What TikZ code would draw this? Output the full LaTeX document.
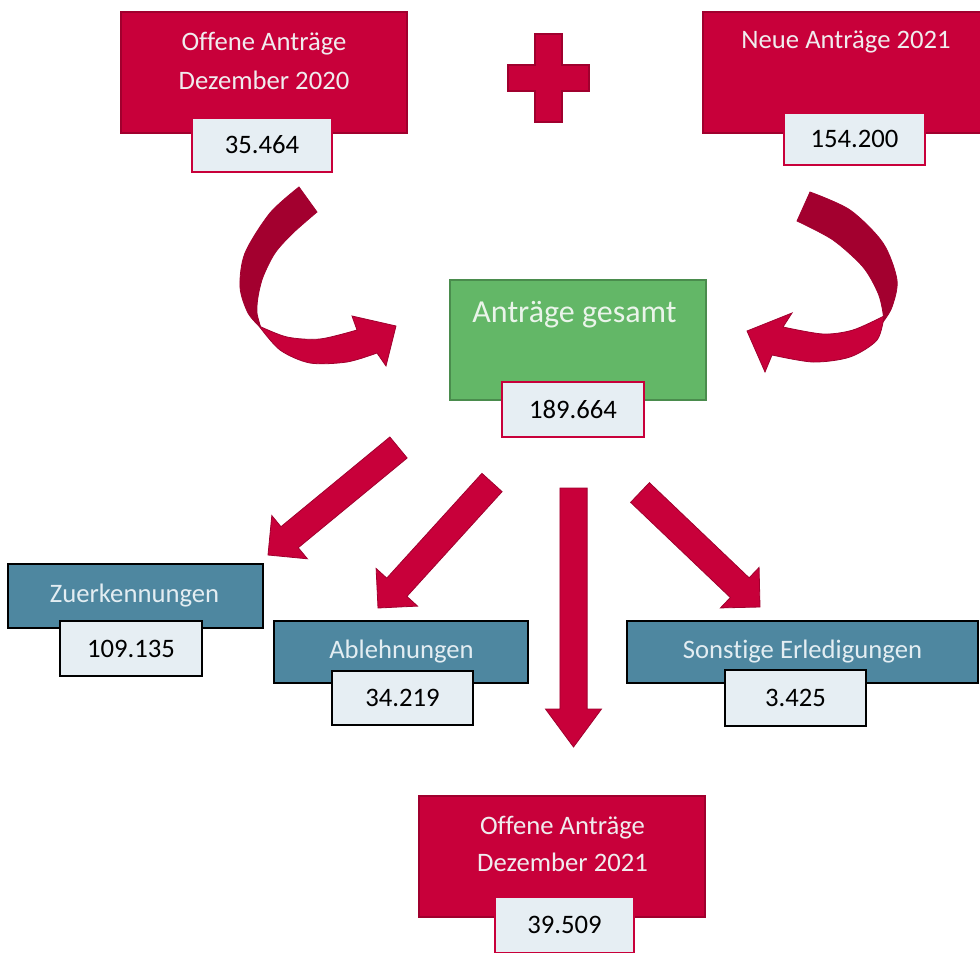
\documentclass[tikz,border=0pt]{standalone}
\usepackage{fontspec}
\setmainfont{Carlito}[Ligatures=NoCommon]
\usepackage{tikz}
\usepackage{xcolor}
\usetikzlibrary{positioning}
\usetikzlibrary{calc}
\definecolor{antragred}{HTML}{C8003A}
\definecolor{antragdark}{HTML}{A0002E}
\definecolor{ribbondark}{HTML}{A3002F}
\definecolor{sumgreen}{HTML}{63B767}
\definecolor{sumgreenline}{HTML}{4A8C4D}
\definecolor{resultblue}{HTML}{4E87A0}
\definecolor{numberbg}{HTML}{E6EEF3}
\definecolor{redtext}{HTML}{F0ECEE}
\definecolor{bluetext}{HTML}{E3EDF2}
\definecolor{greentext}{HTML}{EAF4EA}

\newcommand{\boxfont}{\fontsize{20}{24}\selectfont}
\newcommand{\bigfont}{\fontsize{24}{28}\selectfont}

% straight block arrow: [head length]{tail}{tip}
\newcommand{\blockarrow}[3][21pt]{%
  \coordinate (neck) at ($(#3)!#1!(#2)$);
  \draw[bigarrow] ($(#2)!10.2pt!90:(#3)$) -- ($(neck)!10.2pt!90:(#3)$)
    -- ($(neck)!21pt!90:(#3)$) -- (#3) -- ($(neck)!21pt!-90:(#3)$)
    -- ($(neck)!10.2pt!-90:(#3)$) -- ($(#2)!10.2pt!-90:(#3)$) -- cycle;}

\begin{document}
\begin{tikzpicture}[x=0.75pt, y=-0.75pt,
        redbox/.style={
        draw=antragdark,
        fill=antragred,
        line width=1.1pt,
        minimum width=214.5pt,
        minimum height=90.75pt,
        inner sep=0pt},
        sumbox/.style={
        draw=sumgreenline,
        fill=sumgreen,
        line width=1.1pt,
        minimum width=192pt,
        minimum height=90pt,
        inner sep=0pt},
        bluebox/.style={
        draw=black,
        fill=resultblue,
        line width=1.5pt,
        minimum height=47pt,
        inner sep=0pt},
        numbox/.style={
        draw=antragred,
        fill=numberbg,
        line width=1.1pt,
        minimum width=105.75pt,
        minimum height=40.5pt,
        inner sep=0pt,
        text=black,
        font=\boxfont},
        blacknum/.style={numbox, draw=black, line width=1.5pt},
        redlabel/.style={anchor=base, inner sep=0pt, text=redtext, font=\boxfont},
        bluelabel/.style={redlabel, text=bluetext},
        bigarrow/.style={fill=antragred, draw=antragdark, line width=0.6pt, line join=miter},
        ribbon/.style={fill=ribbondark, draw=antragdark, line width=0.6pt}]

        \useasboundingbox (0,0) rectangle (980,952);
        \clip (0,0) rectangle (980,952);

        % top row
        \node[redbox] (alt) at (264,72.5) {};
        \node[redlabel] at (264,51) {Offene Anträge};
        \node[redlabel] at (264,90) {Dezember 2020};
        \node[numbox, minimum width=105pt] (altnum) at (262,145) {35.464};

        \node[redbox] (neu) at (846,72.5) {};
        \node[redlabel] at (846,49) {Neue Anträge 2021};
        \node[numbox, minimum height=39pt] (neunum) at (854.5,139) {154.200};

        \draw[fill=antragred, draw=antragdark, line width=1.5pt] (535,34) -- (562,34) -- (562,65) -- (589,65)
          -- (589,91) -- (562,91) -- (562,122) -- (535,122) -- (535,91) -- (508,91) -- (508,65) -- (535,65) -- cycle;

        % sum
        \node[sumbox] (gesamt) at (578,340) {};
        \node[redlabel, text=greentext, font=\bigfont] at (574.5,322) {Anträge gesamt};
        \node[numbox, minimum width=106.5pt, minimum height=41.25pt] (gesnum) at (573,409.5) {189.664};

        % curved arrows into the sum
        \draw[ribbon] plot[smooth] coordinates {(299,187) (270,213) (245,253) (240,287) (248,313) (261,328)}
          -- plot[smooth] coordinates {(261,328) (257,313) (258,297) (263,277) (275,253) (293,233) (317,212)} -- cycle;
        \draw[bigarrow] plot[smooth] coordinates {(259,326) (287,337) (320,339) (357,330)}
          -- (352,316) -- (396,326) -- (386,366) -- (377,353)
          -- plot[smooth] coordinates {(377,353) (347,362) (310,363) (280,350) (259,326)} -- cycle;

        \draw[ribbon] plot[smooth] coordinates {(810,192) (850,210) (883,243) (897,280) (892,307) (883,322)}
          -- plot[smooth] coordinates {(883,322) (883,313) (878,293) (863,267) (833,240) (797,221)} -- cycle;
        \draw[bigarrow] plot[smooth] coordinates {(884,316) (853,330) (823,334) (783,327)}
          -- (792,313) -- (747,331) -- (765,372) -- (772,355)
          -- plot[smooth] coordinates {(772,355) (813,362) (850,357) (877,340) (884,316)} -- cycle;

        % results
        \node[bluebox, minimum width=191.25pt, minimum height=48pt] (zuer) at (135.5,596) {};
        \node[bluelabel] at (134.5,602) {Zuerkennungen};
        \node[blacknum, minimum width=106.5pt, minimum height=41.25pt] (zuernum) at (131,648.5) {109.135};

        \node[bluebox, minimum width=190.5pt, minimum height=46.5pt] (abl) at (401,652) {};
        \node[bluelabel] at (401.5,658) {Ablehnungen};
        \node[blacknum] (ablnum) at (402.5,698) {34.219};

        \node[bluebox, minimum width=263.25pt, minimum height=46.5pt] (sonst) at (802.5,652) {};
        \node[bluelabel] at (802.5,658) {Sonstige Erledigungen};
        \node[blacknum, minimum height=42pt] (sonstnum) at (795.5,698) {3.425};

        \node[redbox] (offen) at (562,856.5) {};
        \node[redlabel] at (562.5,834) {Offene Anträge};
        \node[redlabel] at (562.5,871) {Dezember 2021};
        \node[numbox, minimum width=104.25pt, minimum height=42pt] (offennum) at (564.5,925) {39.509};

        % arrows out of the sum
        \coordinate (zTail) at (398.5,447.5);
        \coordinate (zTip)  at (268,555);
        \coordinate (aTail) at (492,482.5);
        \coordinate (aTip)  at (378,608);
        \coordinate (sTail) at (640,492.5);
        \coordinate (sTip)  at (760,607);
        \coordinate (oTail) at (573.5,488);
        \coordinate (oTip)  at (573.5,747);
        \blockarrow{zTail}{zTip}
        \blockarrow{aTail}{aTip}
        \blockarrow{sTail}{sTip}
        \blockarrow[28.5pt]{oTail}{oTip}
\end{tikzpicture}
\end{document}
